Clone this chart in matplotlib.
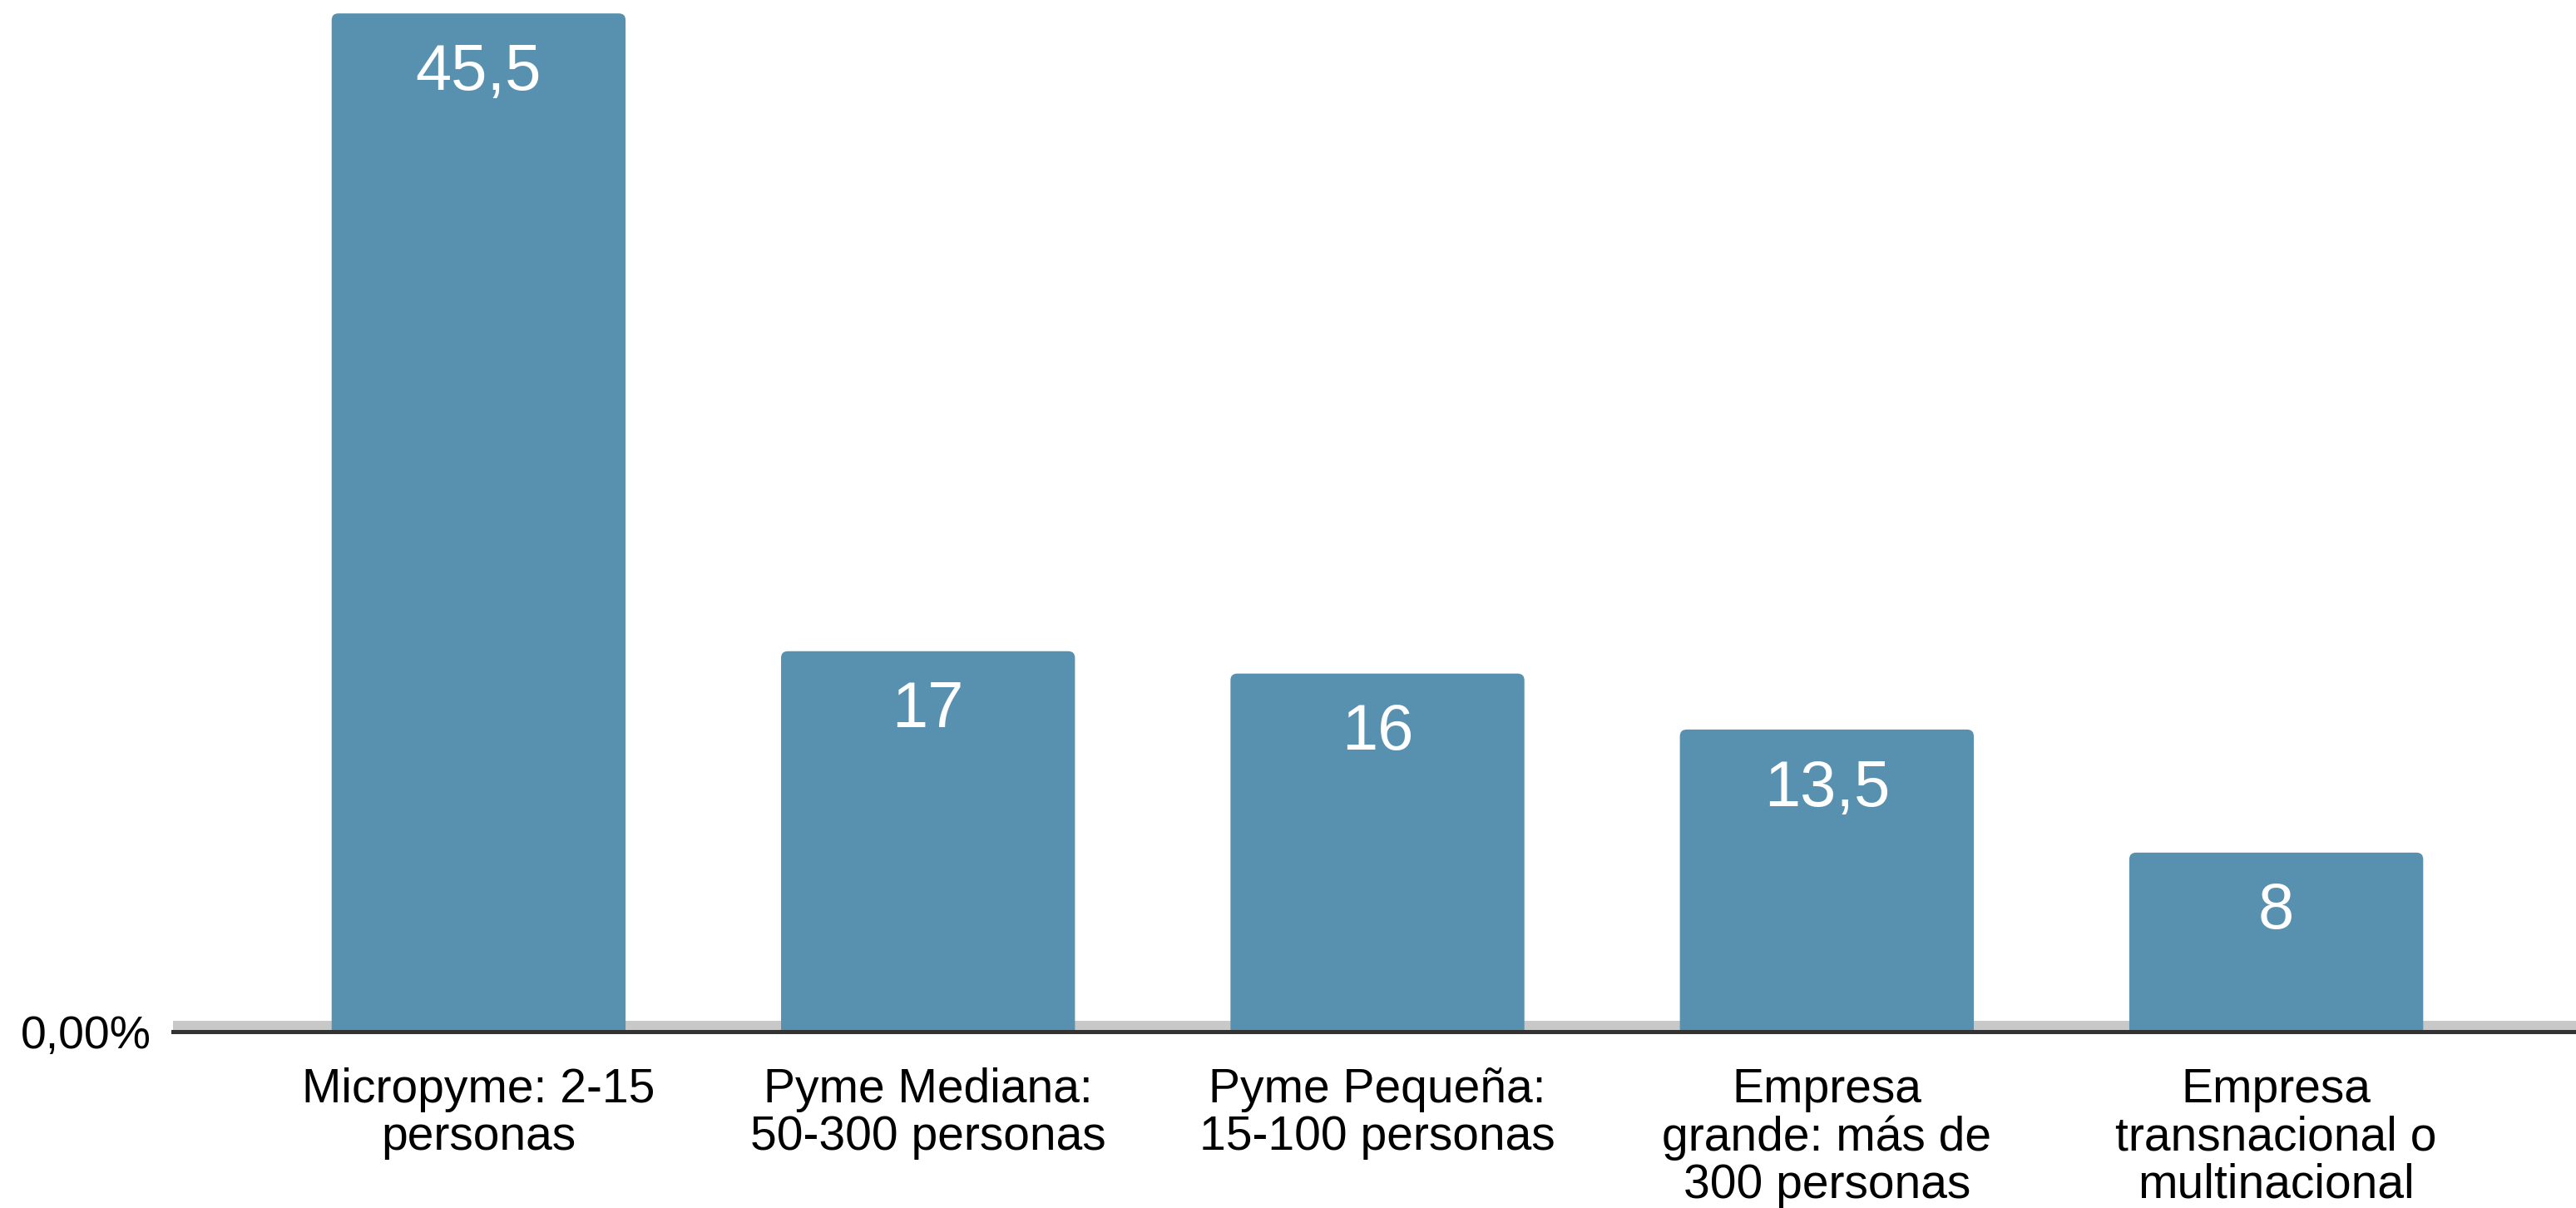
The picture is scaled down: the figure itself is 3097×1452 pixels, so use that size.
import matplotlib.pyplot as plt
from matplotlib.patches import FancyBboxPatch
from matplotlib.ticker import FixedLocator

plt.rcParams['font.family'] = ['Liberation Sans', 'DejaVu Sans']

## data
categorias = ['Micropyme: 2-15\npersonas',
              'Pyme Mediana:\n50-300 personas',
              'Pyme Pequeña:\n15-100 personas',
              'Empresa\ngrande: más de\n300 personas',
              'Empresa\ntransnacional o\nmultinacional']
valores = [45.5, 17, 16, 13.5, 8]
etiquetas = ['45,5', '17', '16', '13,5', '8']

color_barra = '#5891AF'

fig = plt.figure(figsize=(30.97, 14.52), dpi=100)
ax = fig.add_axes([208 / 3097, 1 - 1240 / 1452, 1 - 208 / 3097, 1240 / 1452])

x = range(len(valores))
barras = ax.bar(x, valores, width=0.654, color=color_barra, zorder=2)

# rounded corners: redraw each bar as a rounded box (bottom clipped by axes)
for b in barras:
    b.set_visible(False)
    p = FancyBboxPatch((b.get_x(), -1), b.get_width(), b.get_height() + 1,
                       boxstyle='round,pad=0,rounding_size=0.015',
                       mutation_aspect=20, color=color_barra, lw=0, zorder=2)
    ax.add_patch(p)

for b, txt in zip(barras, etiquetas):
    ax.annotate(txt, (b.get_x() + b.get_width() / 2, b.get_height()),
                xytext=(0, -66), textcoords='offset points',
                ha='center', va='baseline', color='white', fontsize=56)

# gray band behind the bars + dark baseline
ax.axhspan(0, 0.48, color='#c8c8c8', zorder=1, lw=0)

ax.set_xlim(-0.68, 4.667)
ax.set_ylim(0, 46.1)

ax.set_xticks(list(x))
ax.set_xticklabels(categorias, fontsize=41, linespacing=1.08)
ax.yaxis.set_major_locator(FixedLocator([0]))
ax.set_yticklabels(['0,00%'], fontsize=40)
ax.tick_params(axis='both', length=0)
ax.tick_params(axis='x', pad=31)
ax.tick_params(axis='y', pad=19)

for s in ['top', 'right', 'left']:
    ax.spines[s].set_visible(False)
ax.spines['bottom'].set_color('#333333')
ax.spines['bottom'].set_linewidth(3.6)
ax.spines['bottom'].set_zorder(3)

fig.savefig('out.png', dpi=100)
